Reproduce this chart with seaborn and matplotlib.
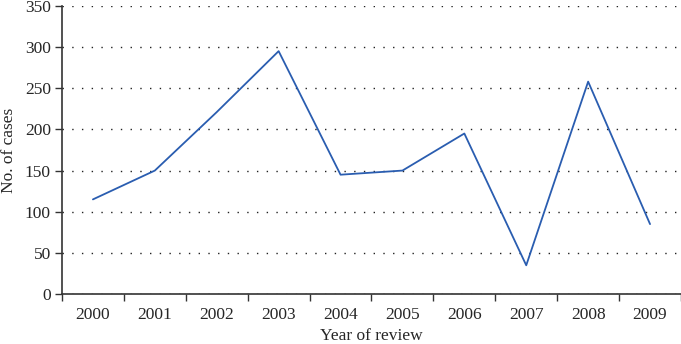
import numpy as np
import pandas as pd
import seaborn as sns
import matplotlib.pyplot as plt
from matplotlib.ticker import FixedLocator, NullFormatter

years = ['2000', '2001', '2002', '2003', '2004', '2005', '2006', '2007', '2008', '2009']
cases = [115, 150, 221, 295, 145, 150, 195, 35, 258, 85]

df = pd.DataFrame({'year': years, 'cases': cases})

sns.set_style('white')
plt.rcParams['font.family'] = ['Liberation Serif', 'DejaVu Serif']

fig = plt.figure(figsize=(6.81, 3.44), dpi=100)
ax = fig.add_axes([0.091, 0.145, 0.909, 0.838])

sns.lineplot(data=df, x='year', y='cases', color='#2a5db0', linewidth=1.3, ax=ax)

ax.set_xlim(-0.5, 9.5)
ax.set_ylim(0, 350)
ax.set_yticks(np.arange(0, 351, 50))

# ticks between categories, labels at the centres
n = len(years)
ax.xaxis.set_major_locator(FixedLocator(np.arange(-0.5, n, 1.0)))
ax.xaxis.set_major_formatter(NullFormatter())
ax.xaxis.set_minor_locator(FixedLocator(np.arange(n)))
ax.set_xticklabels(years, minor=True)
ax.tick_params(axis='x', which='major', bottom=True, direction='out', length=5, width=1, color='#333333')
ax.tick_params(axis='x', which='minor', bottom=True, length=0, pad=9, labelsize=12.5)
ax.tick_params(axis='y', left=True, direction='out', length=5, width=1, color='#333333', labelsize=12.5, pad=3)

ax.yaxis.grid(True, linestyle=(0, (1, 6)), color='#222222', linewidth=1)
ax.xaxis.grid(False)
ax.set_axisbelow(True)

for s in ['top', 'right']:
    ax.spines[s].set_visible(False)
for s in ['left', 'bottom']:
    ax.spines[s].set_color('#333333')
    ax.spines[s].set_linewidth(1.2)

ax.set_xlabel('Year of review', fontsize=12.5, labelpad=4)
ax.set_ylabel('No. of cases', fontsize=12.5, labelpad=6)

fig.savefig('out.png', dpi=100)
